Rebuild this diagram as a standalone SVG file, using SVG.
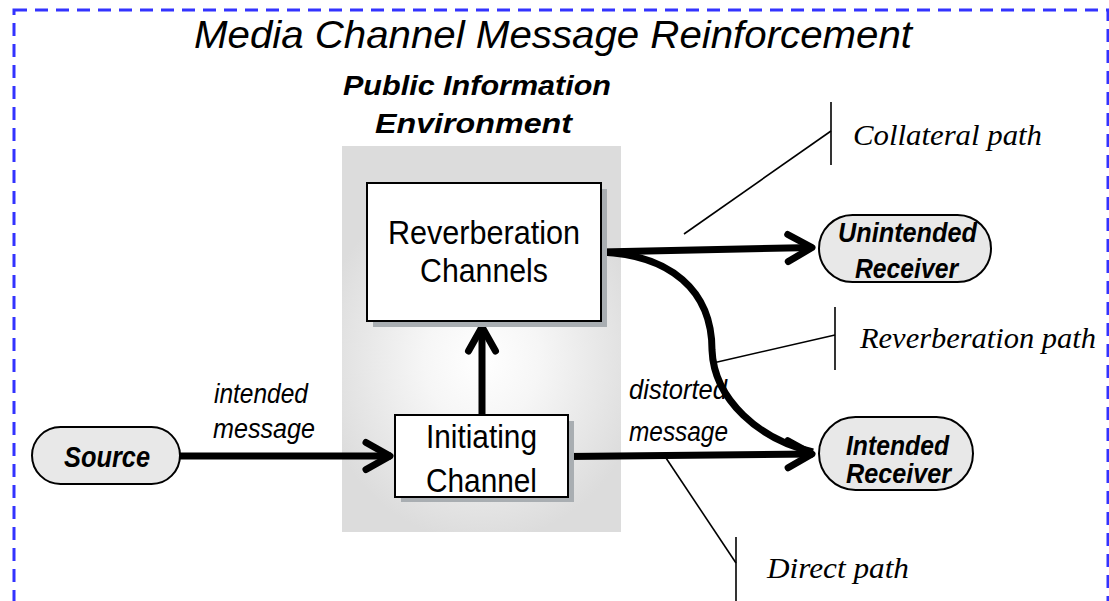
<svg xmlns="http://www.w3.org/2000/svg" width="1109" height="601" viewBox="0 0 1109 601">
<defs>
<radialGradient id="envGrad" gradientUnits="userSpaceOnUse" cx="482" cy="360" r="165" gradientTransform="translate(482 360) scale(1 1.1) translate(-482 -360)">
<stop offset="0" stop-color="#ffffff"/>
<stop offset="0.35" stop-color="#f6f6f6"/>
<stop offset="1" stop-color="#dcdcdc"/>
</radialGradient>
<marker id="chev" markerUnits="userSpaceOnUse" markerWidth="40" markerHeight="40" viewBox="-34 -20 40 40" refX="0" refY="0" orient="auto" overflow="visible">
<path d="M-25,-13.5 L-1,0 L-25,13.5" fill="none" stroke="#000" stroke-width="7" stroke-linecap="round" stroke-linejoin="round"/>
</marker>
<style>
.sans{font-family:"Liberation Sans",Arial,sans-serif;fill:#000}
.serif{font-family:"Liberation Serif","Times New Roman",serif;font-style:italic;fill:#000}
.it{font-style:italic}
.bi{font-style:italic;font-weight:bold}
.box{fill:#fff;stroke:#000;stroke-width:2}
.shadow{fill:#a9aeb2}
.pill{fill:#e8e8e8;stroke:#000;stroke-width:2}
.conn{fill:none;stroke:#000;stroke-width:7}
.lead{fill:none;stroke:#000;stroke-width:1.6}
</style>
</defs>
<rect width="1109" height="601" fill="#fff"/>
<rect x="14" y="10" width="1094" height="620" fill="none" stroke="#3333ff" stroke-width="3" stroke-dasharray="13 8"/>

<g id="title">
<text class="sans it" x="194" y="48" font-size="39" textLength="718" lengthAdjust="spacingAndGlyphs">Media Channel Message Reinforcement</text>
</g>

<g id="environment">
<rect x="342" y="146" width="279" height="386" fill="url(#envGrad)"/>
<text class="sans bi" x="343" y="95" font-size="28" textLength="268" lengthAdjust="spacingAndGlyphs">Public Information</text>
<text class="sans bi" x="375" y="133" font-size="28" textLength="197" lengthAdjust="spacingAndGlyphs">Environment</text>
</g>

<g id="message-labels">
<text class="sans it" x="214" y="403" font-size="27" textLength="94" lengthAdjust="spacingAndGlyphs">intended</text>
<text class="sans it" x="213" y="438" font-size="27" textLength="102" lengthAdjust="spacingAndGlyphs">message</text>
<text class="sans it" x="629" y="399" font-size="27" textLength="98" lengthAdjust="spacingAndGlyphs">distorted</text>
<text class="sans it" x="629" y="441" font-size="27" textLength="99" lengthAdjust="spacingAndGlyphs">message</text>
</g>

<g id="connectors">
<line class="conn" x1="180" y1="456" x2="391" y2="456" marker-end="url(#chev)"/>
<line class="conn" x1="482" y1="415" x2="482" y2="326" marker-end="url(#chev)"/>
<line class="conn" x1="601" y1="252" x2="813" y2="247.5" marker-end="url(#chev)"/>
<line class="conn" x1="568" y1="456.5" x2="813" y2="454" marker-end="url(#chev)"/>
<path class="conn" d="M601,252 C670,255 712,290 712,350 C714,400 760,440 813,452"/>
</g>

<g id="reverberation-channels">
<rect class="shadow" x="373" y="189" width="234" height="138"/>
<rect class="box" x="367" y="183" width="234" height="138"/>
<text class="sans" x="388" y="244" font-size="33" textLength="192" lengthAdjust="spacingAndGlyphs">Reverberation</text>
<text class="sans" x="420" y="282" font-size="33" textLength="128" lengthAdjust="spacingAndGlyphs">Channels</text>
</g>

<g id="initiating-channel">
<rect class="shadow" x="401" y="421" width="173" height="81"/>
<rect class="box" x="395" y="415" width="173" height="82"/>
<text class="sans" x="426" y="448" font-size="33" textLength="111" lengthAdjust="spacingAndGlyphs">Initiating</text>
<text class="sans" x="426" y="492" font-size="33" textLength="111" lengthAdjust="spacingAndGlyphs">Channel</text>
</g>

<g id="source">
<rect class="pill" x="32" y="427" width="148" height="57" rx="28.5" ry="28.5"/>
<text class="sans bi" x="64" y="467" font-size="29" textLength="86" lengthAdjust="spacingAndGlyphs">Source</text>
</g>

<g id="unintended-receiver">
<rect class="pill" x="819" y="215" width="172" height="67" rx="33.5" ry="33.5"/>
<text class="sans bi" x="838" y="242" font-size="28" textLength="139" lengthAdjust="spacingAndGlyphs">Unintended</text>
<text class="sans bi" x="855" y="278" font-size="28" textLength="103" lengthAdjust="spacingAndGlyphs">Receiver</text>
</g>

<g id="intended-receiver">
<rect class="pill" x="819" y="417" width="154" height="73" rx="36.5" ry="36.5"/>
<text class="sans bi" x="846" y="455" font-size="28" textLength="103" lengthAdjust="spacingAndGlyphs">Intended</text>
<text class="sans bi" x="846" y="483" font-size="28" textLength="105" lengthAdjust="spacingAndGlyphs">Receiver</text>
</g>

<g id="collateral-path">
<line class="lead" x1="684" y1="234" x2="831" y2="131"/>
<line class="lead" x1="831" y1="102" x2="831" y2="165"/>
<text class="serif" x="853" y="145" font-size="30" textLength="189" lengthAdjust="spacingAndGlyphs">Collateral path</text>
</g>

<g id="reverberation-path">
<line class="lead" x1="713" y1="363" x2="835" y2="335"/>
<line class="lead" x1="835" y1="307" x2="835" y2="370"/>
<text class="serif" x="860" y="348" font-size="30" textLength="236" lengthAdjust="spacingAndGlyphs">Reverberation path</text>
</g>

<g id="direct-path">
<line class="lead" x1="666" y1="458" x2="736" y2="563"/>
<line class="lead" x1="736" y1="537" x2="736" y2="601"/>
<text class="serif" x="767" y="578" font-size="30" textLength="142" lengthAdjust="spacingAndGlyphs">Direct path</text>
</g>
</svg>
